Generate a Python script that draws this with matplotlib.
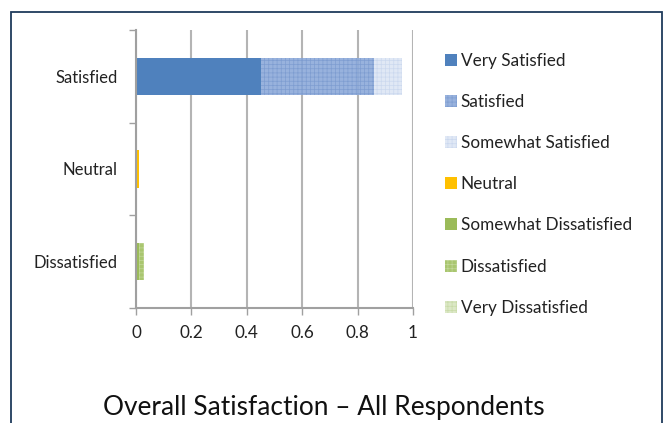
import matplotlib.pyplot as plt
from matplotlib.patches import Rectangle
import numpy as np

plt.rcParams['font.family'] = ['Lato', 'DejaVu Sans']
plt.rcParams['hatch.linewidth'] = 0.5

# categories, bottom to top
categories = ['Dissatisfied', 'Neutral', 'Satisfied']

# response shares per category
very_satisfied = [0.0, 0.0, 0.45]
satisfied = [0.0, 0.0, 0.41]
somewhat_satisfied = [0.0, 0.0, 0.10]
neutral = [0.0, 0.01, 0.0]
somewhat_dissatisfied = [0.01, 0.0, 0.0]
dissatisfied = [0.02, 0.0, 0.0]
very_dissatisfied = [0.0, 0.0, 0.0]

series = [
    ('Very Satisfied', very_satisfied, dict(color='#4F81BD')),
    ('Satisfied', satisfied, dict(facecolor='#8DAADA', edgecolor='#7C9BD0', hatch='++++', alpha=0.9)),
    ('Somewhat Satisfied', somewhat_satisfied, dict(facecolor='#DDE6F4', edgecolor='#C9D7EE', hatch='++++', alpha=0.9)),
    ('Neutral', neutral, dict(color='#FFC000')),
    ('Somewhat Dissatisfied', somewhat_dissatisfied, dict(color='#9BBB59')),
    ('Dissatisfied', dissatisfied, dict(facecolor='#A9C66F', edgecolor='#C3D89A', hatch='++++')),
    ('Very Dissatisfied', very_dissatisfied, dict(facecolor='#DCE8C6', edgecolor='#C9DBA8', hatch='++++')),
]

fig = plt.figure(figsize=(6.67, 4.23), dpi=100)
ax = fig.add_axes([0.2039, 0.2719, 0.4153, 0.6572])

y = np.arange(len(categories))
left = np.zeros(len(categories))
handles = []
for name, vals, style in series:
    b = ax.barh(y, vals, left=left, height=0.4, linewidth=0, label=name, zorder=2, **style)
    handles.append(b)
    left = left + np.array(vals)

ax.set_xlim(0, 1)
ax.set_ylim(-0.5, 2.5)
ax.set_xticks([0, 0.2, 0.4, 0.6, 0.8, 1])
ax.set_xticklabels(['0', '0.2', '0.4', '0.6', '0.8', '1'])
ax.set_yticks(y)
ax.set_yticklabels(categories)
ax.set_yticks([-0.5, 0.5, 1.5, 2.5], minor=True)
ax.tick_params(axis='y', which='major', length=0, pad=13, labelsize=12, labelcolor='#222222')
ax.tick_params(axis='y', which='minor', length=5, width=1, color='#A0A0A0')
ax.tick_params(axis='x', length=5, width=1, color='#A0A0A0', pad=7, labelsize=12.3, labelcolor='#222222')

ax.grid(axis='x', color='#B4B4B4', linewidth=1.5, zorder=0)
ax.set_axisbelow(True)
for s in ['top', 'right']:
    ax.spines[s].set_visible(False)
ax.spines['left'].set_color('#A0A0A0')
ax.spines['left'].set_linewidth(1.5)
ax.spines['bottom'].set_color('#A0A0A0')
ax.spines['bottom'].set_linewidth(1.5)

fig.legend(handles=handles, loc='upper left', bbox_to_anchor=(0.657, 0.891),
           frameon=False, fontsize=12.3, handlelength=0.7, handleheight=0.7,
           handletextpad=0.22, labelspacing=1.47, borderaxespad=0, labelcolor='#222222')

fig.text(0.485, 0.036, 'Overall Satisfaction \u2013 All Respondents', ha='center', va='center',
         fontsize=18.9, color='#111111')

# dark frame around the chart
fig.add_artist(Rectangle((11 / 667, -0.05), 651 / 667, 1 - 12 / 423 + 0.05, transform=fig.transFigure,
                         fill=False, edgecolor='#1F3B5C', linewidth=1.3))

fig.savefig('out.png', dpi=100)
